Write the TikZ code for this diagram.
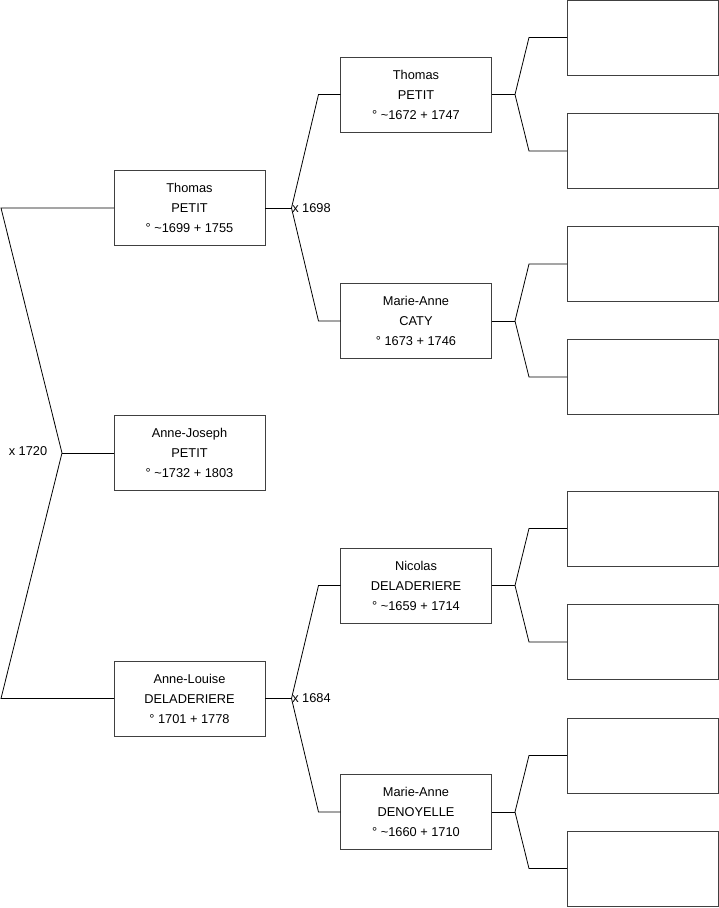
\documentclass[tikz,border=0pt]{standalone}
\usepackage{fontspec}
\setmainfont{Liberation Sans}
\usetikzlibrary{positioning,calc}
\definecolor{colCadre}{RGB}{64,64,64}

\begin{document}
\begin{tikzpicture}[x=1pt, y=-1pt, font=\fontsize{12.8}{20}\selectfont,
    pers/.style={rectangle, draw=colCadre, line width=0.9pt, align=center,
      minimum width=151pt, minimum height=75pt, inner sep=0pt, outer sep=0pt},
    vide/.style={pers},
    lien/.style={line width=0.8pt, black},
    mar/.style={inner sep=0.6pt, font=\fontsize{12.8}{14}\selectfont}]
    \useasboundingbox (0,0) rectangle (719,908);
    % generation 1
    \node[pers] (thomas) at (189.5,208)
      {Thomas\\ PETIT\\ \textdegree{} \textasciitilde1699 + 1755};
    \node[pers, below=170pt of thomas] (annejo)
      {Anne-Joseph\\ PETIT\\ \textdegree{} \textasciitilde1732 + 1803};
    \node[pers, below=170.5pt of annejo] (annelo)
      {Anne-Louise\\ DELADERIERE\\ \textdegree{} 1701 + 1778};
    % generation 2
    \node[pers, right=75.5pt of thomas, yshift=113.5pt] (thomasP)
      {Thomas\\ PETIT\\ \textdegree{} \textasciitilde1672 + 1747};
    \node[pers, right=75.5pt of thomas, yshift=-113pt] (catyM)
      {Marie-Anne\\ CATY\\ \textdegree{} 1673 + 1746};
    \node[pers, right=75.5pt of annelo, yshift=113pt] (nicolasP)
      {Nicolas\\ DELADERIERE\\ \textdegree{} \textasciitilde1659 + 1714};
    \node[pers, right=75.5pt of annelo, yshift=-113.5pt] (denoyelleM)
      {Marie-Anne\\ DENOYELLE\\ \textdegree{} \textasciitilde1660 + 1710};
    % generation 3 (vides)
    \node[vide, right=75.5pt of thomasP, yshift=57pt] (vide1) {};
    \node[vide, right=75.5pt of thomasP, yshift=-56.5pt] (vide2) {};
    \node[vide, right=75.5pt of catyM, yshift=57pt] (vide3) {};
    \node[vide, right=75.5pt of catyM, yshift=-56pt] (vide4) {};
    \node[vide, right=75.5pt of nicolasP, yshift=57pt] (vide5) {};
    \node[vide, right=75.5pt of nicolasP, yshift=-56.5pt] (vide6) {};
    \node[vide, right=75.5pt of denoyelleM, yshift=56.5pt] (vide7) {};
    \node[vide, right=75.5pt of denoyelleM, yshift=-56.5pt] (vide8) {};
    % fourches
    \coordinate (xRoot) at ($(annejo.west)+(-52,0)$);
    \draw[lien] (annejo.west) -- (xRoot);
    \draw[lien] (thomas.west) -- ++(-113,0) -- (xRoot)
      -- ($(annelo.west)+(-113,0)$) -- (annelo.west);
    \node[mar, left=14pt of xRoot, yshift=1.5pt] (m1720) {x 1720};
    \coordinate (xPT) at ($(thomas.east)+(26.5,0)$);
    \draw[lien] (thomas.east) -- (xPT);
    \draw[lien] (thomasP.west) -- ++(-22,0) -- (xPT)
      -- ($(catyM.west)+(-22,0)$) -- (catyM.west);
    \node[mar, right=0pt of xPT] (m1698) {x 1698};
    \coordinate (xDL) at ($(annelo.east)+(26.5,0)$);
    \draw[lien] (annelo.east) -- (xDL);
    \draw[lien] (nicolasP.west) -- ++(-22,0) -- (xDL)
      -- ($(denoyelleM.west)+(-22,0)$) -- (denoyelleM.west);
    \node[mar, right=0pt of xDL] (m1684) {x 1684};
    \coordinate (xTP) at ($(thomasP.east)+(23.5,0)$);
    \draw[lien] (thomasP.east) -- (xTP);
    \draw[lien] (vide1.west) -- ++(-38,0) -- (xTP)
      -- ($(vide2.west)+(-38,0)$) -- (vide2.west);
    \coordinate (xMC) at ($(catyM.east)+(23.5,0)$);
    \draw[lien] (catyM.east) -- (xMC);
    \draw[lien] (vide3.west) -- ++(-38,0) -- (xMC)
      -- ($(vide4.west)+(-38,0)$) -- (vide4.west);
    \coordinate (xND) at ($(nicolasP.east)+(23.5,0)$);
    \draw[lien] (nicolasP.east) -- (xND);
    \draw[lien] (vide5.west) -- ++(-38,0) -- (xND)
      -- ($(vide6.west)+(-38,0)$) -- (vide6.west);
    \coordinate (xMD) at ($(denoyelleM.east)+(23.5,0)$);
    \draw[lien] (denoyelleM.east) -- (xMD);
    \draw[lien] (vide7.west) -- ++(-38,0) -- (xMD)
      -- ($(vide8.west)+(-38,0)$) -- (vide8.west);
\end{tikzpicture}
\end{document}
